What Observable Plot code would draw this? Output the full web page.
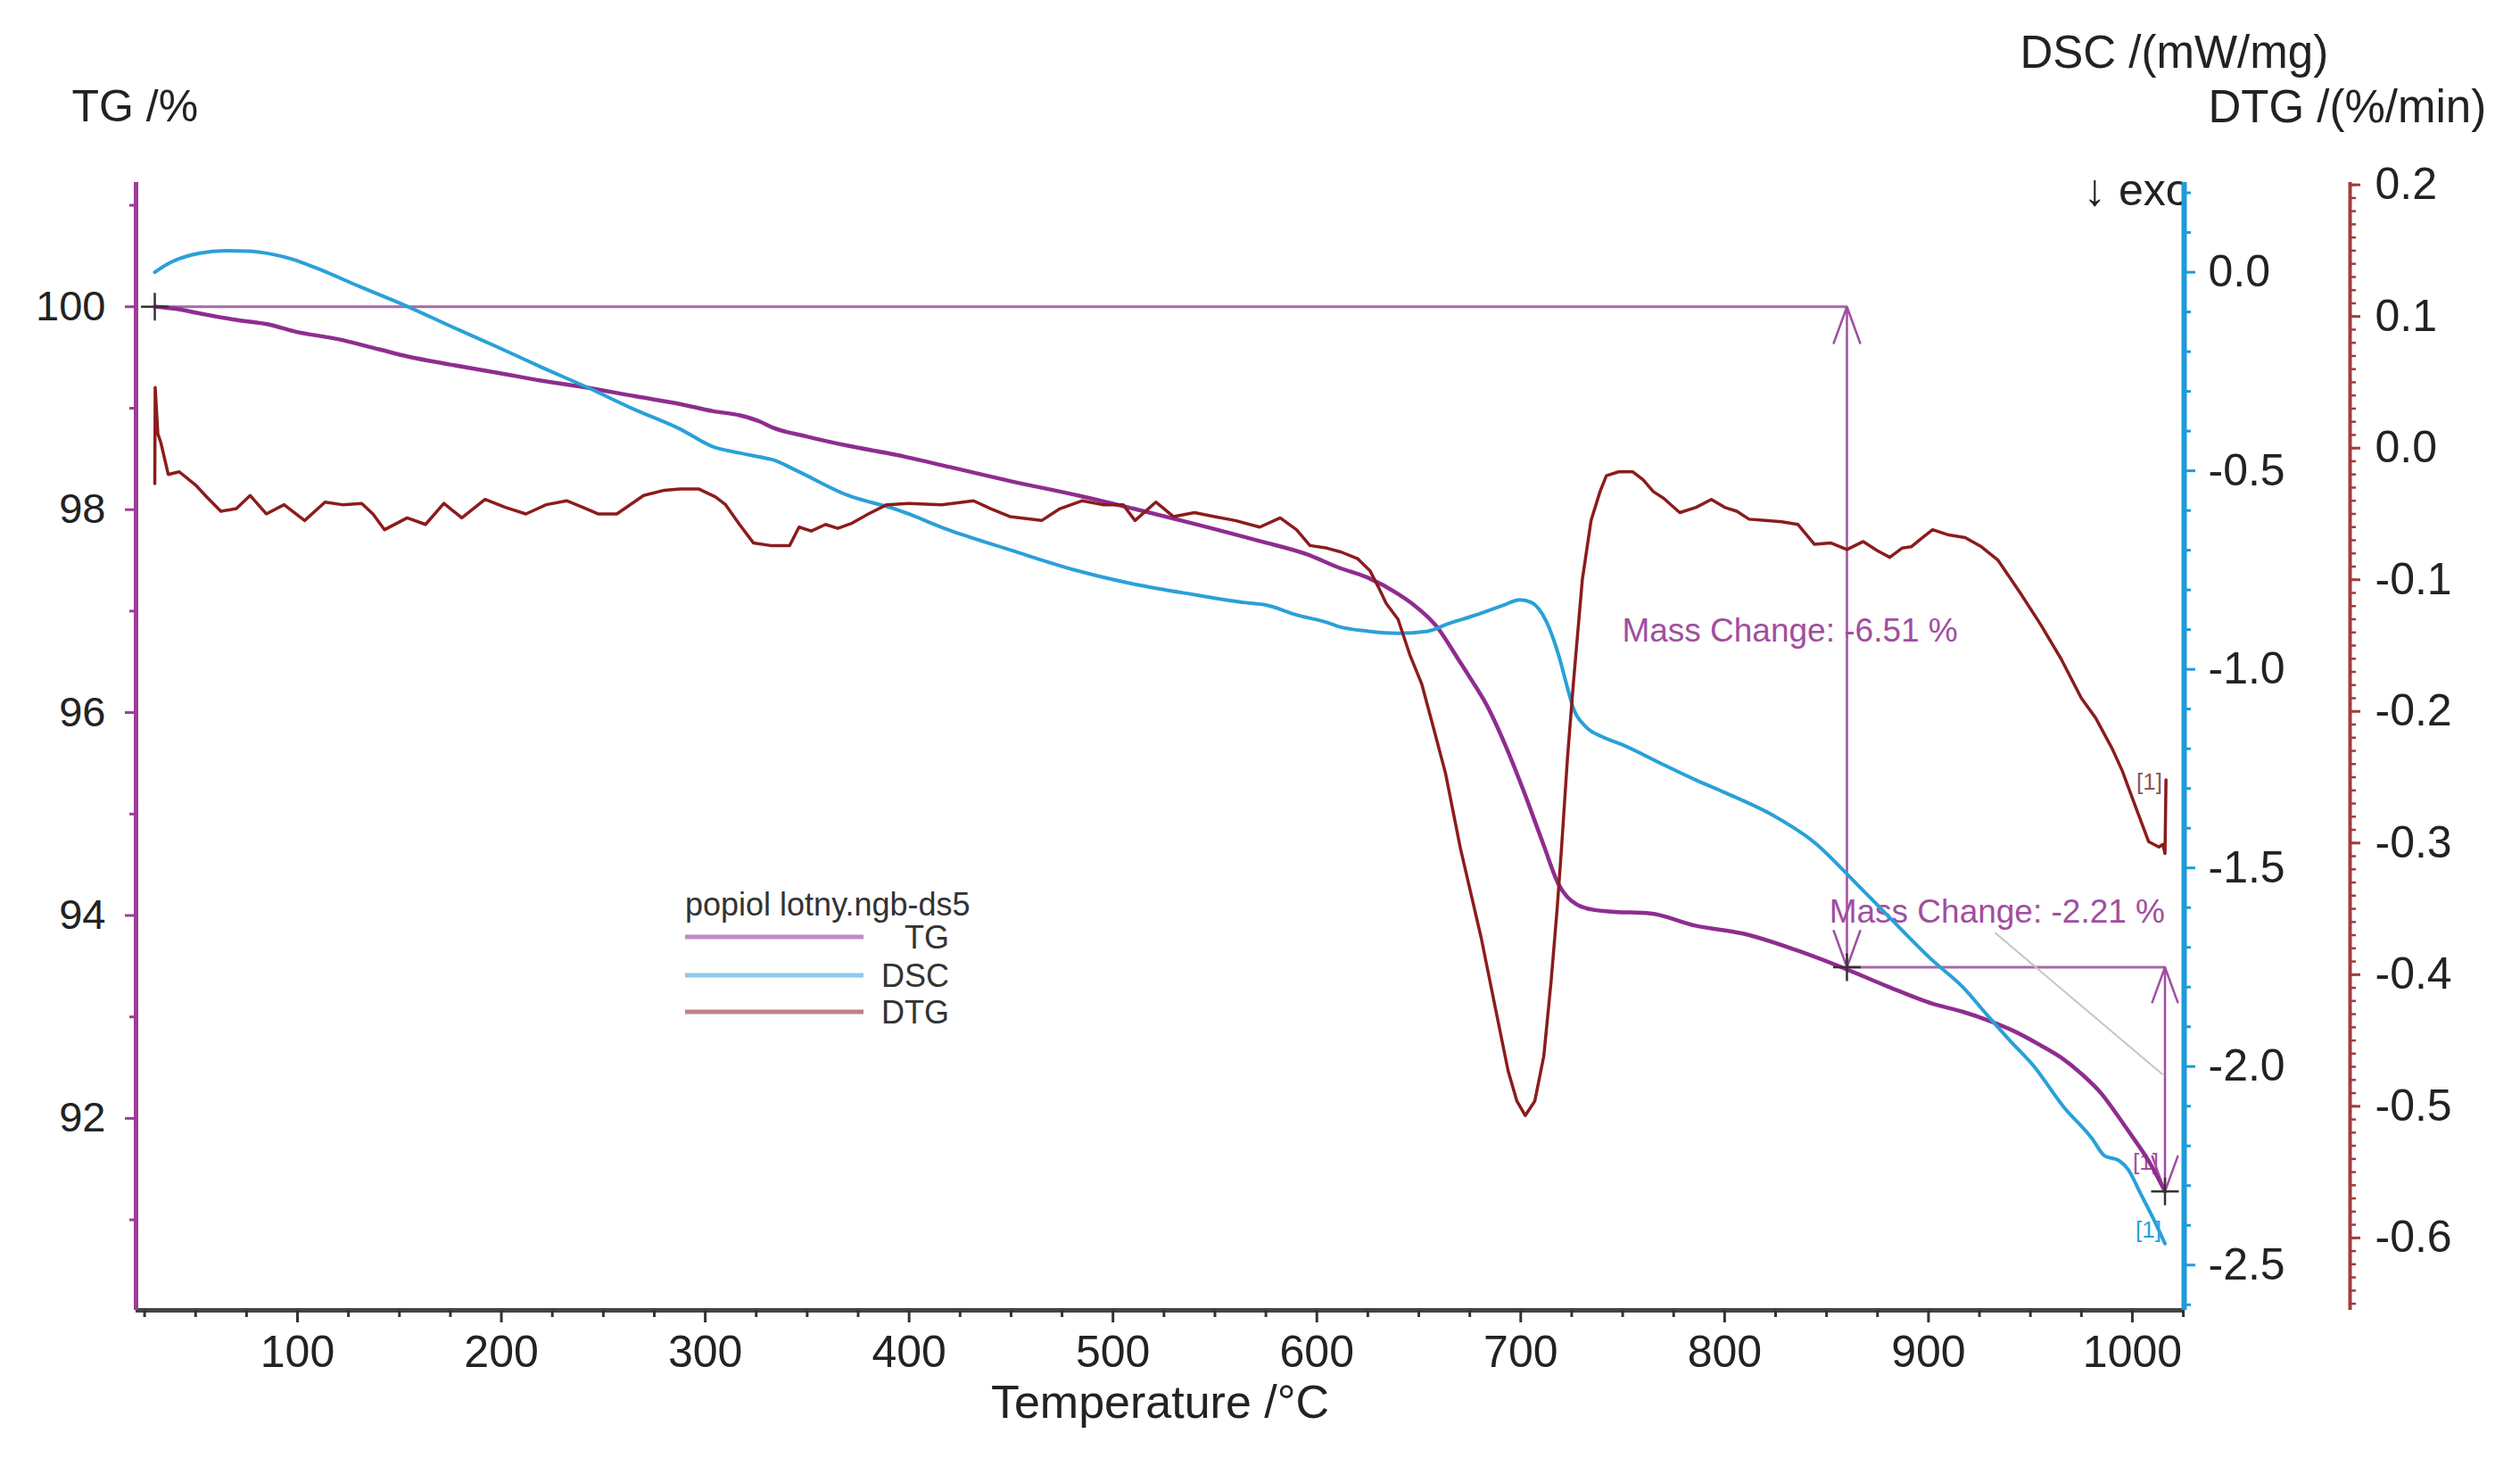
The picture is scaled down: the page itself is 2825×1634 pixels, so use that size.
<!DOCTYPE html>
<html><head><meta charset="utf-8">
<script src="https://cdn.jsdelivr.net/npm/d3@7"></script>
<script src="https://cdn.jsdelivr.net/npm/@observablehq/plot@0.6"></script>
<style>
body{margin:0;background:#fff;}
#wrap{position:relative;width:2825px;height:1634px;overflow:hidden;font-family:"Liberation Sans",Arial,sans-serif;background:#fff;}
#wrap svg{position:absolute;left:0;top:0;}
#exo{position:absolute;left:2336px;top:187px;width:113px;overflow:hidden;white-space:nowrap;font-size:50px;line-height:52px;color:#222;}
</style></head><body><div id="wrap"><div id="exo">↓ exo</div></div>
<script>
// ---------- data ----------
const tgCurve = [[30,100.0],[40,99.98],[53,99.93],[70,99.87],[87,99.82],[98,99.76],[120,99.68],[140,99.58],[154,99.51],[175,99.43],[198,99.35],[220,99.27],[243,99.20],[265,99.12],[288,99.04],[304,98.97],[317,98.93],[326.6,98.87],[333,98.81],[350,98.72],[370,98.63],[393.6,98.54],[420,98.42],[450,98.28],[482.8,98.14],[510,98.01],[540,97.86],[572,97.69],[595,97.56],[610.6,97.43],[625,97.33],[639.8,97.17],[647,97.07],[658.7,96.85],[668.9,96.54],[676.2,96.31],[683.4,96.07],[692.2,95.69],[701,95.25],[711.3,94.69],[718.5,94.31],[722.5,94.19],[727.3,94.11],[734.5,94.06],[743,94.04],[763.7,94.02],[785.6,93.90],[809.5,93.82],[835,93.66],[858.6,93.48],[880,93.30],[902,93.13],[917,93.05],[928.7,92.97],[942,92.86],[955,92.72],[965,92.60],[975,92.44],[985,92.24],[992,92.05],[998.6,91.86],[1008,91.58],[1016,91.28]];
const dscCurve = [[30,0.0],[36,0.02],[42,0.034],[52,0.048],[64.6,0.054],[76,0.053],[86.9,0.046],[98,0.032],[109,0.011],[130,-0.035],[153.8,-0.086],[176,-0.138],[198.4,-0.189],[220,-0.24],[243,-0.292],[265,-0.345],[287.7,-0.395],[304,-0.44],[316.8,-0.455],[326.6,-0.465],[333,-0.472],[345,-0.5],[370,-0.562],[393.6,-0.597],[420,-0.65],[450,-0.70],[482.8,-0.752],[510,-0.785],[540,-0.812],[565,-0.832],[575,-0.838],[590,-0.863],[605,-0.882],[610.6,-0.892],[625.2,-0.904],[639.8,-0.909],[654.4,-0.904],[664,-0.886],[676.2,-0.866],[690.8,-0.840],[699.6,-0.825],[705.4,-0.832],[712.7,-0.881],[718.5,-0.963],[722.9,-1.046],[725.8,-1.098],[731.6,-1.143],[740,-1.17],[749.1,-1.188],[770,-1.24],[785.6,-1.278],[800,-1.31],[822.8,-1.365],[845,-1.44],[862.6,-1.529],[880,-1.62],[902,-1.733],[916.8,-1.80],[928.7,-1.87],[940,-1.935],[951.8,-2.0],[966,-2.1],[980,-2.18],[986.4,-2.225],[993.5,-2.237],[998,-2.26],[1004,-2.32],[1010,-2.38],[1016,-2.446]];
const dtgCurve = [[30,-0.027],[30.2,0.046],[31.5,0.011],[33,0.004],[36.6,-0.020],[42,-0.018],[50,-0.028],[56,-0.038],[62.4,-0.048],[70,-0.046],[76.8,-0.036],[84.7,-0.050],[93.4,-0.043],[103.5,-0.055],[113.5,-0.041],[122,-0.043],[131.5,-0.042],[137,-0.050],[142.7,-0.062],[153.8,-0.053],[162.8,-0.058],[171.8,-0.042],[180.6,-0.053],[192,-0.039],[202,-0.045],[212,-0.050],[222,-0.043],[232,-0.040],[240,-0.045],[247.4,-0.050],[256.6,-0.050],[269.8,-0.036],[280,-0.032],[287.7,-0.031],[296.7,-0.031],[305,-0.037],[310,-0.043],[316.8,-0.058],[323.6,-0.072],[332,-0.074],[341.4,-0.074],[346,-0.060],[352,-0.063],[359,-0.058],[365,-0.061],[372,-0.057],[380,-0.050],[389,-0.043],[400,-0.042],[416,-0.043],[431.6,-0.040],[440,-0.046],[449.4,-0.052],[465,-0.055],[474,-0.046],[485,-0.040],[495,-0.043],[505,-0.043],[510.8,-0.055],[521,-0.041],[529.6,-0.052],[540,-0.049],[549.8,-0.052],[560,-0.055],[572,-0.060],[582,-0.053],[590,-0.062],[596.6,-0.074],[605,-0.076],[612,-0.079],[620,-0.084],[626,-0.093],[630,-0.105],[634,-0.118],[639.8,-0.130],[645.6,-0.157],[651.4,-0.179],[657.3,-0.213],[663.1,-0.247],[670.4,-0.304],[680.6,-0.372],[687.9,-0.428],[693.8,-0.473],[698.1,-0.496],[702.2,-0.507],[706.9,-0.496],[711.3,-0.462],[714.9,-0.405],[717.9,-0.349],[720,-0.304],[722.9,-0.236],[725.8,-0.179],[730.2,-0.100],[734.5,-0.055],[738.9,-0.033],[742,-0.021],[748,-0.018],[755,-0.018],[760,-0.024],[765,-0.033],[770,-0.038],[778,-0.049],[786,-0.045],[793.5,-0.039],[800,-0.045],[806,-0.048],[812,-0.054],[820,-0.055],[828,-0.056],[836,-0.058],[844,-0.073],[852,-0.072],[860,-0.077],[868,-0.071],[875,-0.078],[881,-0.083],[887,-0.076],[891.5,-0.075],[897,-0.068],[902,-0.062],[910,-0.066],[918,-0.068],[926,-0.075],[934,-0.085],[945,-0.110],[955,-0.134],[965,-0.160],[975,-0.190],[982,-0.205],[990,-0.228],[995,-0.245],[1001,-0.270],[1008,-0.299],[1013,-0.303],[1015,-0.301],[1016,-0.308],[1016.5,-0.252]];

// mass-change evaluation (TG)
const stepTemps = [30, 860, 1016];        // °C
const stepLevels = [100, 93.49, 91.28];   // TG %
const massChanges = ["-6.51", "-2.21"];   // %
const massLabelPos = [[749.7, 96.80], [1016, 94.03]];
const leaderLine = [[932.6, 93.83], [1015, 92.43]];
const markerLabels = {tg: [1006.6, 91.57], dsc: [1007.9, -2.412], dtg: [1008.3, -0.2536]};

// axis ticks
const xTicks = [100,200,300,400,500,600,700,800,900,1000];
const xMinorTicks = [25,50,75,125,150,175,225,250,275,325,350,375,425,450,475,525,550,575,625,650,675,725,750,775,825,850,875,925,950,975,1025];
const tgTicks = [92,94,96,98,100];
const tgMinorTicks = [91,93,95,97,99,101];
const dscTicks = [0,-0.5,-1.0,-1.5,-2.0,-2.5];
const dscMinorTicks = [0.2,0.1,-0.1,-0.2,-0.3,-0.4,-0.6,-0.7,-0.8,-0.9,-1.1,-1.2,-1.3,-1.4,-1.6,-1.7,-1.8,-1.9,-2.1,-2.2,-2.3,-2.4,-2.6];
const dtgTicks = [0.2,0.1,0.0,-0.1,-0.2,-0.3,-0.4,-0.5,-0.6];
const dtgMinorTicks = Array.from({length: 86}, (_, i) => (20 - i) / 100);

const legendTitle = "popiol lotny.ngb-ds5";
const legendLabels = ["TG", "DSC", "DTG"];

// ---------- styling ----------
const W = 2825, H = 1634;
const M = {top: 204, right: 377, bottom: 166, left: 152};
const xDomain = [20.8, 1025.4];
const tgDomain = [90.108, 101.225];
const dscDomain = [-2.614, 0.226];
const dtgDomain = [-0.655, 0.2018];
const FONT = '"Liberation Sans", Arial, sans-serif';
const C = {tg: "#8e2d8f", tgAxis: "#9c3d98", dsc: "#2aa0d8", dscAxis: "#1f9ad8", dtg: "#8b1c1c", dtgAxis: "#a33b3b", ann: "#a04ea0", annLine: "#a66aa6", text: "#222"};

const toRows = arr => arr.map(([t, v]) => ({t, v}));

function make(yDomain, marks) {
  return Plot.plot({
    width: W, height: H,
    marginTop: M.top, marginRight: M.right, marginBottom: M.bottom, marginLeft: M.left,
    x: {domain: xDomain, axis: null, label: null},
    y: {domain: yDomain, axis: null, label: null},
    style: {background: "transparent", fontFamily: FONT, fontSize: "48px", color: C.text, overflow: "visible"},
    marks
  });
}

const blank = () => "";
const mid = (a, b) => (a + b) / 2;

// TG plot (with x axis, annotations)
const tgPlot = make(tgDomain, [
  Plot.ruleY([tgDomain[0]], {stroke: "#444", strokeWidth: 5}),
  Plot.axisX({ticks: xMinorTicks, tickSize: 8, tickFormat: blank, stroke: "#333", strokeWidth: 3, label: null}),
  Plot.axisX({ticks: xTicks, tickSize: 14, tickPadding: 14, tickFormat: d => String(d), stroke: "#333", color: C.text, strokeWidth: 3, fontSize: 50, label: null}),
  Plot.ruleX([xDomain[0]], {stroke: C.tgAxis, strokeWidth: 5}),
  Plot.axisY({anchor: "left", ticks: tgMinorTicks, tickSize: 7, tickFormat: blank, stroke: C.tgAxis, strokeWidth: 3, label: null}),
  Plot.axisY({anchor: "left", ticks: tgTicks, tickSize: 12, tickPadding: 22, tickFormat: d => String(d), stroke: C.tgAxis, color: C.text, strokeWidth: 3, fontSize: 47, label: null}),
  // step lines
  Plot.ruleY([0, 1], {y: i => stepLevels[i], x1: i => stepTemps[i], x2: i => stepTemps[i + 1], stroke: C.annLine, strokeWidth: 3}),
  // double-headed arrows
  Plot.arrow([0, 1], {x: i => stepTemps[i + 1], y1: i => mid(stepLevels[i], stepLevels[i + 1]), y2: i => stepLevels[i], insetEnd: i => [74, 26][i], stroke: C.ann, strokeWidth: 2.5, headLength: 26, headAngle: 40}),
  Plot.arrow([0, 1], {x: i => stepTemps[i + 1], y1: i => mid(stepLevels[i], stepLevels[i + 1]), y2: i => stepLevels[i + 1], insetEnd: i => [75, 25][i], stroke: C.ann, strokeWidth: 2.5, headLength: 26, headAngle: 40}),
  Plot.link([0], {x1: () => leaderLine[0][0], y1: () => leaderLine[0][1], x2: () => leaderLine[1][0], y2: () => leaderLine[1][1], stroke: "#c4c4c4", strokeWidth: 2}),
  Plot.text([0], {x: () => massLabelPos[0][0], y: () => massLabelPos[0][1], text: () => `Mass Change: ${massChanges[0]} %`, textAnchor: "start", fill: C.ann, fontSize: 37}),
  Plot.text([1], {x: () => massLabelPos[1][0], y: () => massLabelPos[1][1], text: () => `Mass Change: ${massChanges[1]} %`, textAnchor: "end", fill: C.ann, fontSize: 37}),
  Plot.text(["[1]"], {x: () => markerLabels.tg[0], y: () => markerLabels.tg[1], text: d => d, fill: C.ann, fontSize: 26}),
  Plot.line(toRows(tgCurve), {x: "t", y: "v", stroke: C.tg, strokeWidth: 4.5, curve: "monotone-x"}),
  Plot.dot(stepTemps, {x: d => d, y: (d, i) => stepLevels[i], symbol: "plus", r: 10, stroke: "#333", strokeWidth: 2.5}),
  // titles
  Plot.text(["TG /%"], {frameAnchor: "top-left", lineAnchor: "middle", dx: -72, dy: -85, text: d => d, textAnchor: "start", fontSize: 50, fill: C.text}),
  Plot.text(["Temperature /°C"], {frameAnchor: "bottom", lineAnchor: "middle", dy: 104, text: d => d, fontSize: 52, fill: C.text})
]);

// DSC plot
const dscPlot = make(dscDomain, [
  Plot.ruleX([xDomain[1]], {stroke: C.dscAxis, strokeWidth: 6}),
  Plot.axisY({anchor: "right", ticks: dscMinorTicks, tickSize: 7, tickFormat: blank, stroke: C.dscAxis, strokeWidth: 3, label: null}),
  Plot.axisY({anchor: "right", ticks: dscTicks, tickSize: 12, tickPadding: 15, tickFormat: d => d.toFixed(1), stroke: C.dscAxis, color: C.text, strokeWidth: 3, fontSize: 50, label: null}),
  Plot.line(toRows(dscCurve), {x: "t", y: "v", stroke: C.dsc, strokeWidth: 4, curve: "monotone-x"}),
  Plot.text(["[1]"], {x: () => markerLabels.dsc[0], y: () => markerLabels.dsc[1], text: d => d, fill: C.dsc, fontSize: 26}),
  Plot.text(["DSC /(mW/mg)"], {frameAnchor: "top-right", lineAnchor: "middle", dx: -184, dy: -145, text: d => d, textAnchor: "start", fontSize: 51, fill: C.text})
]);

// DTG plot
const dtgPlot = make(dtgDomain, [
  Plot.ruleX([xDomain[1]], {dx: 186, stroke: C.dtgAxis, strokeWidth: 4}),
  Plot.axisY({anchor: "right", dx: 186, ticks: dtgMinorTicks, tickSize: 6, tickFormat: blank, stroke: C.dtgAxis, strokeWidth: 2.5, label: null}),
  Plot.axisY({anchor: "right", dx: 186, ticks: dtgTicks, tickSize: 11, tickPadding: 17, tickFormat: d => d.toFixed(1), stroke: C.dtgAxis, color: C.text, strokeWidth: 3, fontSize: 50, label: null}),
  Plot.line(toRows(dtgCurve), {x: "t", y: "v", stroke: C.dtg, strokeWidth: 3.5}),
  Plot.text(["[1]"], {x: () => markerLabels.dtg[0], y: () => markerLabels.dtg[1], text: d => d, fill: "#8b5656", fontSize: 26}),
  Plot.text(["DTG /(%/min)"], {frameAnchor: "top-right", lineAnchor: "middle", dx: 27, dy: -84, text: d => d, textAnchor: "start", fontSize: 51, fill: C.text})
]);

const wrap = document.getElementById("wrap");
wrap.append(tgPlot, dscPlot, dtgPlot);

// legend (layout only)
const lg = d3.select(wrap).append("svg").attr("width", W).attr("height", H)
  .style("font-family", FONT);
lg.append("text").attr("x", 768).attr("y", 1026).attr("font-size", 36).attr("fill", "#333").text(legendTitle);
const legendColors = [C.tg, C.dsc, C.dtg];
const legendY = [1050, 1093, 1134];
legendLabels.forEach((lab, i) => {
  lg.append("line").attr("x1", 768).attr("x2", 968).attr("y1", legendY[i]).attr("y2", legendY[i])
    .attr("stroke", legendColors[i]).attr("stroke-opacity", 0.55).attr("stroke-width", 5);
  lg.append("text").attr("x", 1064).attr("y", legendY[i] + 13).attr("text-anchor", "end")
    .attr("font-size", 36).attr("fill", "#333").text(lab);
});
</script>
</body></html>
